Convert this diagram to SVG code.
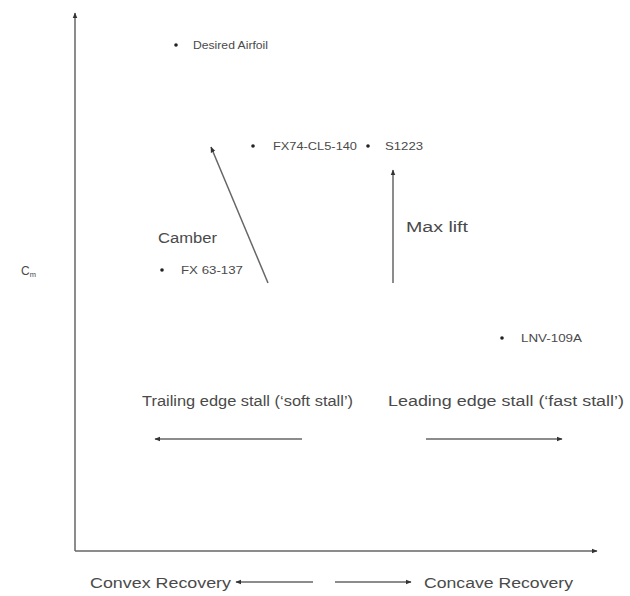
<svg xmlns="http://www.w3.org/2000/svg" width="630" height="596" viewBox="0 0 630 596">
<style>
.t{font-family:"Liberation Sans",Arial,sans-serif;fill:#4a4a4a}
.s{font-size:11px}
.m{font-size:15.5px}
.ln{stroke:#666;stroke-width:1.5;fill:none}
.dot{fill:#222}
</style>
<defs>
<marker id="ah" viewBox="0 0 10 10" refX="9" refY="5" markerWidth="6" markerHeight="6" orient="auto" markerUnits="userSpaceOnUse">
<path d="M0,1 L10,5 L0,9 z" fill="#333"/>
</marker>
</defs>
<rect width="630" height="596" fill="#fff"/>
<g id="connectors">
<line class="ln" x1="75" y1="551" x2="75" y2="13" marker-end="url(#ah)"/>
<line class="ln" x1="75" y1="551" x2="597" y2="551" marker-end="url(#ah)"/>
<line class="ln" x1="268" y1="283" x2="211" y2="147" marker-end="url(#ah)"/>
<line class="ln" x1="393" y1="283" x2="393" y2="170" marker-end="url(#ah)"/>
<line class="ln" x1="302" y1="439" x2="155" y2="439" marker-end="url(#ah)"/>
<line class="ln" x1="426" y1="439" x2="562" y2="439" marker-end="url(#ah)"/>
<line class="ln" stroke-width="1" x1="313" y1="582" x2="236" y2="582" marker-end="url(#ah)"/>
<line class="ln" stroke-width="1" x1="335" y1="582" x2="411" y2="582" marker-end="url(#ah)"/>
</g>
<g id="axis-label">
<text class="t" x="21" y="275" font-size="12">C<tspan font-size="7.5" dy="2">m</tspan></text>
</g>
<g id="desired-airfoil">
<circle class="dot" cx="176" cy="45" r="1.8"/>
<text class="t s" x="193" y="49" textLength="75" lengthAdjust="spacingAndGlyphs">Desired Airfoil</text>
</g>
<g id="fx74">
<circle class="dot" cx="253" cy="146" r="1.8"/>
<text class="t s" x="273" y="150" textLength="84" lengthAdjust="spacingAndGlyphs">FX74-CL5-140</text>
</g>
<g id="s1223">
<circle class="dot" cx="368" cy="146" r="1.8"/>
<text class="t s" x="385" y="150" textLength="38" lengthAdjust="spacingAndGlyphs">S1223</text>
</g>
<g id="fx63">
<circle class="dot" cx="162" cy="270" r="1.8"/>
<text class="t s" x="181" y="274" textLength="62" lengthAdjust="spacingAndGlyphs">FX 63-137</text>
</g>
<g id="lnv">
<circle class="dot" cx="502" cy="338" r="1.8"/>
<text class="t s" x="521" y="342" textLength="61" lengthAdjust="spacingAndGlyphs">LNV-109A</text>
</g>
<g id="camber-label">
<text class="t m" x="158" y="243" textLength="59" lengthAdjust="spacingAndGlyphs">Camber</text>
</g>
<g id="maxlift-label">
<text class="t m" x="406" y="232" textLength="62" lengthAdjust="spacingAndGlyphs">Max lift</text>
</g>
<g id="trailing-label">
<text class="t m" x="142" y="406" textLength="211" lengthAdjust="spacingAndGlyphs">Trailing edge stall (‘soft stall’)</text>
</g>
<g id="leading-label">
<text class="t m" x="388" y="406" textLength="236" lengthAdjust="spacingAndGlyphs">Leading edge stall (‘fast stall’)</text>
</g>
<g id="convex-label">
<text class="t m" x="90" y="588" textLength="141" lengthAdjust="spacingAndGlyphs">Convex Recovery</text>
</g>
<g id="concave-label">
<text class="t m" x="424" y="588" textLength="149" lengthAdjust="spacingAndGlyphs">Concave Recovery</text>
</g>
</svg>
